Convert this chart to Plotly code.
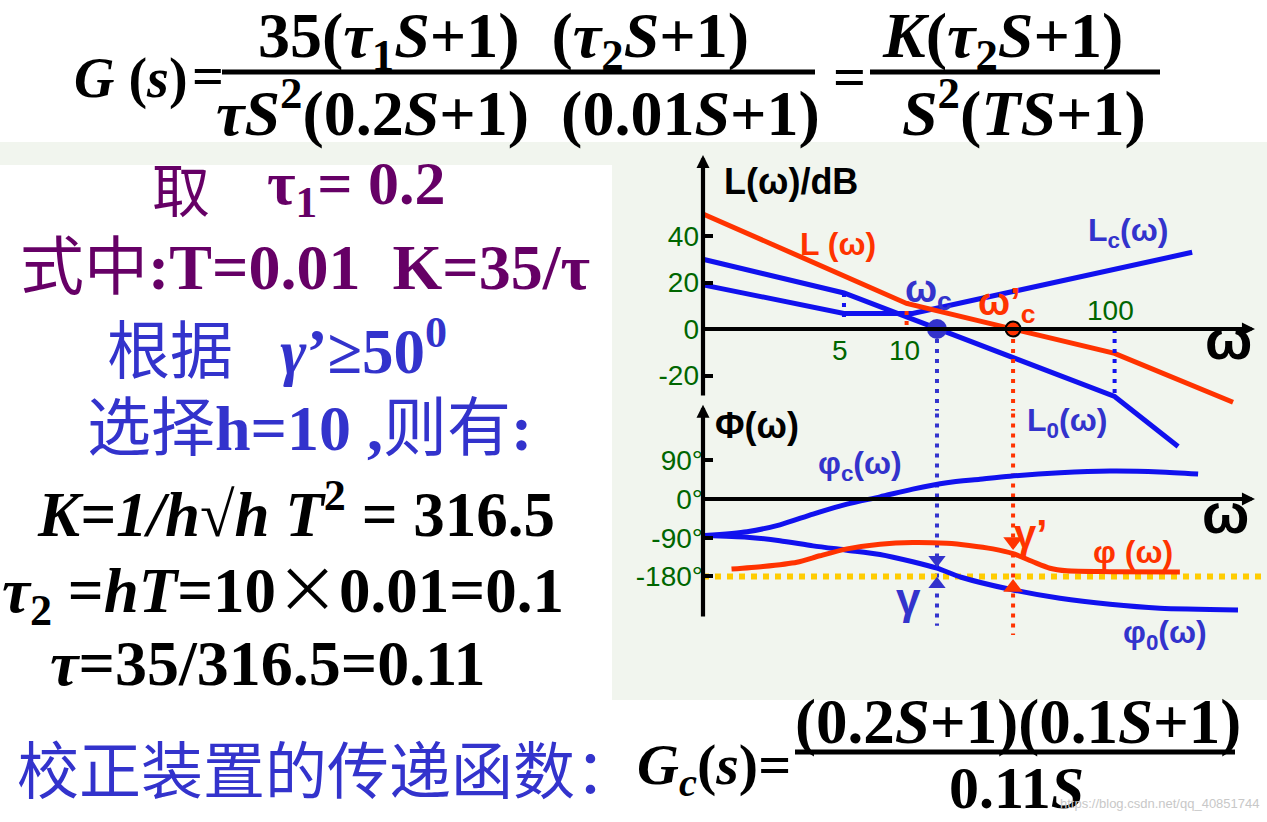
import math
import plotly.graph_objects as go

W, H = 1267, 822

# ---------------- data ----------------
# Magnitude asymptotes: omega (rad/s) and dB
w_L = [1.05, 10, 100, 371]
L_db = [49.5, 11, -10.5, -31.5]
w_L0 = [1.05, 5, 100, 202]
L0_db = [30, 15.5, -29, -50.5]
w_Lc = [1.05, 5, 10.7, 236]
Lc_db = [19, 6.7, 6.7, 33]

w_c0 = 14.0      # crossover of L0
w_c1 = 32.5      # crossover of corrected L

# Phase curves (degrees)
w_phc = [1.07, 1.71, 2.46, 3.55, 5.17, 7.45, 10.7, 15.6, 22.5, 31.4, 54.6, 95, 165, 252]
ph_c = [-85, -76, -60, -35, -12, 5, 23, 38, 46, 53, 61, 65, 63, 58]
w_ph0 = [1.07, 1.71, 2.46, 3.55, 5.17, 7.45, 10.7, 14.0, 18.3, 31.4, 54.6, 95, 165, 392]
ph_0 = [-85, -89, -97, -109, -119, -129, -146, -161, -182, -210, -231, -245, -254, -258]
w_ph = [1.44, 2.04, 2.97, 3.83, 5.17, 7.45, 10.7, 15.6, 20.0, 26.0, 32.5, 40.5, 48.9, 59, 95, 206]
ph = [-163, -157, -147, -132, -116, -105, -101, -103, -108, -116, -127, -146, -161, -167, -169, -170]

mag_ticks = [-20, 0, 20, 40]
mag_ticktext = ["-20", "0", "20", "40"]
ph_ticks = [-180, -90, 0, 90]
ph_ticktext = ["-180°", "-90°", "0°", "90°"]

w_axis = [1.05, 473]          # omega extent of the drawn axes
mag_axis = [-29.2, 74.8]      # dB extent of the drawn magnitude axis
ph_axis = [-277, 219]         # deg extent of the drawn phase axis
w_yellow = [1.05, 560]

RED = "#ff3300"
BLUE = "#1111ee"
SLATE = "#3333cc"
GREEN = "#006600"
PURPLE = "#660066"

fig = go.Figure()


def line(x, y, color, width=5, dash=None, yaxis="y", shape="linear"):
    fig.add_trace(go.Scatter(x=x, y=y, mode="lines", yaxis=yaxis, hoverinfo="skip",
                             line=dict(color=color, width=width, dash=dash, shape=shape,
                                       smoothing=0.7)))


# magnitude curves
line(w_L0, L0_db, BLUE)
line(w_Lc, Lc_db, BLUE)
line(w_L, L_db, RED)

# guide dots
line([w_L0[1], w_L0[1]], [L0_db[1], 3], BLUE, 4, "4px,6px")
line([w_L[1], w_L[1]], [L_db[1] + 1, 1.5], RED, 4, "4px,6px")
line([w_L[2], w_L[2]], [0, L0_db[2]], BLUE, 4, "4px,6px")
line([w_c0, w_c0], [0, mag_axis[0] - 6], SLATE, 4, "4px,6px")
line([w_c1, w_c1], [0, mag_axis[0] - 6], RED, 4, "4px,6px")
line([w_c0, w_c0], [ph_axis[1] - 20, -295], SLATE, 4, "4px,6px", yaxis="y2")
line([w_c1, w_c1], [ph_axis[1] - 20, -316], RED, 4, "4px,6px", yaxis="y2")

# phase curves
line(w_yellow, [-180, -180], "#ffcc00", 6, "6px,6px", yaxis="y2")
line(w_phc, ph_c, BLUE, 5, yaxis="y2", shape="spline")
line(w_ph0, ph_0, BLUE, 5, yaxis="y2", shape="spline")
line(w_ph, ph, RED, 5, yaxis="y2", shape="spline")

# crossover markers
fig.add_trace(go.Scatter(x=[w_c0], y=[0], mode="markers", hoverinfo="skip",
                         marker=dict(color=SLATE, size=20)))
fig.add_trace(go.Scatter(x=[w_c1], y=[0], mode="markers", hoverinfo="skip",
                         marker=dict(color=RED, size=15, line=dict(color="black", width=2))))
# phase margin arrows
fig.add_trace(go.Scatter(x=[w_c0, w_c0], y=[-141, -198], mode="markers", yaxis="y2", hoverinfo="skip",
                         marker=dict(color=SLATE, size=15, symbol=["triangle-down", "triangle-up"])))
fig.add_trace(go.Scatter(x=[w_c1, w_c1], y=[-99, -206], mode="markers", yaxis="y2", hoverinfo="skip",
                         marker=dict(color=RED, size=17, symbol=["triangle-down", "triangle-up"])))

ax_common = dict(showgrid=False, zeroline=False, showline=False, fixedrange=True)
fig.update_layout(
    width=W, height=H, margin=dict(l=0, r=0, t=0, b=0),
    paper_bgcolor="#f1f5ee", plot_bgcolor="rgba(0,0,0,0)", showlegend=False,
    xaxis=dict(type="log", range=[-3.3586, 2.7327], domain=[0, 1], visible=False, **ax_common),
    yaxis=dict(range=[-212.04, 141.51], domain=[0, 1], anchor="free", position=703 / W,
               tickvals=mag_ticks, ticktext=mag_ticktext, ticks="inside", ticklen=9, tickwidth=4,
               tickcolor="black", ticklabelstandoff=4,
               tickfont=dict(family="Liberation Sans", size=28, color=GREEN), **ax_common),
    yaxis2=dict(range=[-751.16, 1160.47], domain=[0, 1], overlaying="y", anchor="free",
                position=703 / W, side="left",
                tickvals=ph_ticks, ticktext=ph_ticktext, ticks="inside", ticklen=9, tickwidth=4,
                tickcolor="black", ticklabelstandoff=0,
                tickfont=dict(family="Liberation Sans", size=28, color=GREEN), **ax_common),
)

lg = math.log10
ann = []


def arrow(x0, y0, x1, y1, yref="y"):
    ann.append(dict(x=lg(x1), y=y1, ax=lg(x0), ay=y0, xref="x", yref=yref, axref="x", ayref=yref,
                    text="", showarrow=True, arrowhead=2, arrowsize=0.62, arrowwidth=4.2,
                    arrowcolor="black", standoff=0))


arrow(w_axis[0], mag_axis[0], w_axis[0], mag_axis[1])
arrow(w_axis[0], 0, w_axis[1], 0)
arrow(w_axis[0], ph_axis[0], w_axis[0], ph_axis[1], "y2")
arrow(w_axis[0], 0, w_axis[1], 0, "y2")


def P(px, py):
    return px / W, 1 - py / H


def txt(s, px, py, size, color="black", family="Liberation Sans", xanchor="center", bold=True):
    x, y = P(px, py)
    ann.append(dict(x=x, y=y, xref="paper", yref="paper", text=("<b>%s</b>" % s) if bold else s,
                    showarrow=False, xanchor=xanchor, yanchor="middle",
                    font=dict(family=family, size=size, color=color)))


# plot labels
txt("L(ω)/dB", 791, 181, 36)
txt("L (ω)", 838, 244, 32, RED)
txt("L<sub>c</sub>(ω)", 1128, 233, 32, SLATE)
txt("ω<sub>c</sub>", 929, 292, 38, SLATE)
txt("ω’<sub>c</sub>", 1007, 305, 38, RED)
txt("100", 1110, 310, 28, GREEN, bold=False)
txt("5", 840, 350, 28, GREEN, bold=False)
txt("10", 904, 350, 28, GREEN, bold=False)
txt("L<sub>0</sub>(ω)", 1067, 422, 32, SLATE)
txt("ω", 1228, 340, 56)
txt("Φ(ω)", 757, 425, 36)
txt("φ<sub>c</sub>(ω)", 860, 465, 32, SLATE)
txt("φ (ω)", 1133, 552, 32, RED)
txt("φ<sub>0</sub>(ω)", 1165, 634, 32, SLATE)
txt("ω", 1225, 513, 56)
txt("γ", 908, 598, 44, SLATE)
txt("γ’", 1030, 534, 40, RED)

SERIF = "Liberation Serif, Noto Sans CJK SC"
CJK = "Noto Sans CJK SC"
NB = "\u00a0"
SUP2 = "<sup>2</sup>"

# top formula
txt("<i>G</i> (<i>s</i>)", 72, 78, 56, family=SERIF, xanchor="left")
txt("=", 208, 76, 56, family=SERIF)
txt("35(<i>τ</i><sub>1</sub><i>S</i>+1)" + NB * 2 + "(<i>τ</i><sub>2</sub><i>S</i>+1)", 256, 40, 64,
    family=SERIF, xanchor="left")
txt("<i>τS</i>" + SUP2 + "(0.2<i>S</i>+1)" + NB * 2 + "(0.01<i>S</i>+1)", 214, 108, 64,
    family=SERIF, xanchor="left")
txt("=", 849, 76, 58, family=SERIF)
txt("<i>K</i>(<i>τ</i><sub>2</sub><i>S</i>+1)", 880, 40, 64, family=SERIF, xanchor="left")
txt("<i>S</i>" + SUP2 + "(<i>TS</i>+1)", 900, 108, 64, family=SERIF, xanchor="left")

# left block
txt("取", 150, 187, 58, PURPLE, family=CJK, xanchor="left", bold=False)
txt("τ<sub>1</sub>= 0.2", 265, 187, 62, PURPLE, family=SERIF, xanchor="left")
txt("式中<b>:T=0.01" + NB * 2 + "K=35/τ</b>", 18, 267, 64, PURPLE, family=SERIF, xanchor="left", bold=False)
txt("根据" + NB * 3 + "<b><i>γ</i>’≥50<sup>0</sup></b>", 105, 347, 63, SLATE, family=SERIF, xanchor="left",
    bold=False)
txt("选择<b>h=10 ,</b>则有<b>:</b>", 85, 428, 64, SLATE, family=SERIF, xanchor="left", bold=False)
txt("<i>K=1/h</i>√<i>h</i> <i>T</i>" + SUP2 + " = 316.5", 35, 510, 63, family=SERIF, xanchor="left")
txt("<i>τ</i><sub>2</sub> =<i>hT</i>=10<span style='font-family:Noto Sans CJK SC;font-weight:normal'>×</span>0.01=0.1",
    0, 587, 63, family=SERIF, xanchor="left")
txt("<i>τ</i>=35/316.5=0.11", 48, 663, 64, family=SERIF, xanchor="left")

# bottom line
txt("校正装置的传递函数：", 15, 767, 62, SLATE, family=CJK, xanchor="left", bold=False)
txt("<i>G<sub>c</sub></i>(<i>s</i>)=", 635, 768, 58, family=SERIF, xanchor="left")
txt("(0.2<i>S</i>+1)(0.1<i>S</i>+1)", 793, 722, 63, family=SERIF, xanchor="left")
txt("0.11<i>S</i>", 947, 788, 60, family=SERIF, xanchor="left")
txt("https://blog.csdn.net/qq_40851744", 1262, 803, 13, "#c8c8c8", xanchor="right", bold=False)

fig.update_layout(annotations=ann)

# background panels and fraction bars
shapes = [
    dict(type="rect", xref="paper", yref="paper", x0=0, x1=1, y0=1 - 142 / H, y1=1,
         fillcolor="white", line=dict(width=0), layer="below"),
    dict(type="rect", xref="paper", yref="paper", x0=0, x1=612 / W, y0=1 - 712 / H, y1=1 - 165 / H,
         fillcolor="white", line=dict(width=0), layer="below"),
    dict(type="rect", xref="paper", yref="paper", x0=0, x1=1, y0=0, y1=1 - 700 / H,
         fillcolor="white", line=dict(width=0), layer="below"),
]
for x0, x1, yy in [(222, 815, 72), (870, 1160, 72), (795, 1235, 752)]:
    shapes.append(dict(type="line", xref="paper", yref="paper", x0=x0 / W, x1=x1 / W,
                       y0=1 - yy / H, y1=1 - yy / H, line=dict(color="black", width=5)))
fig.update_layout(shapes=shapes)

fig.write_html("out.html")
